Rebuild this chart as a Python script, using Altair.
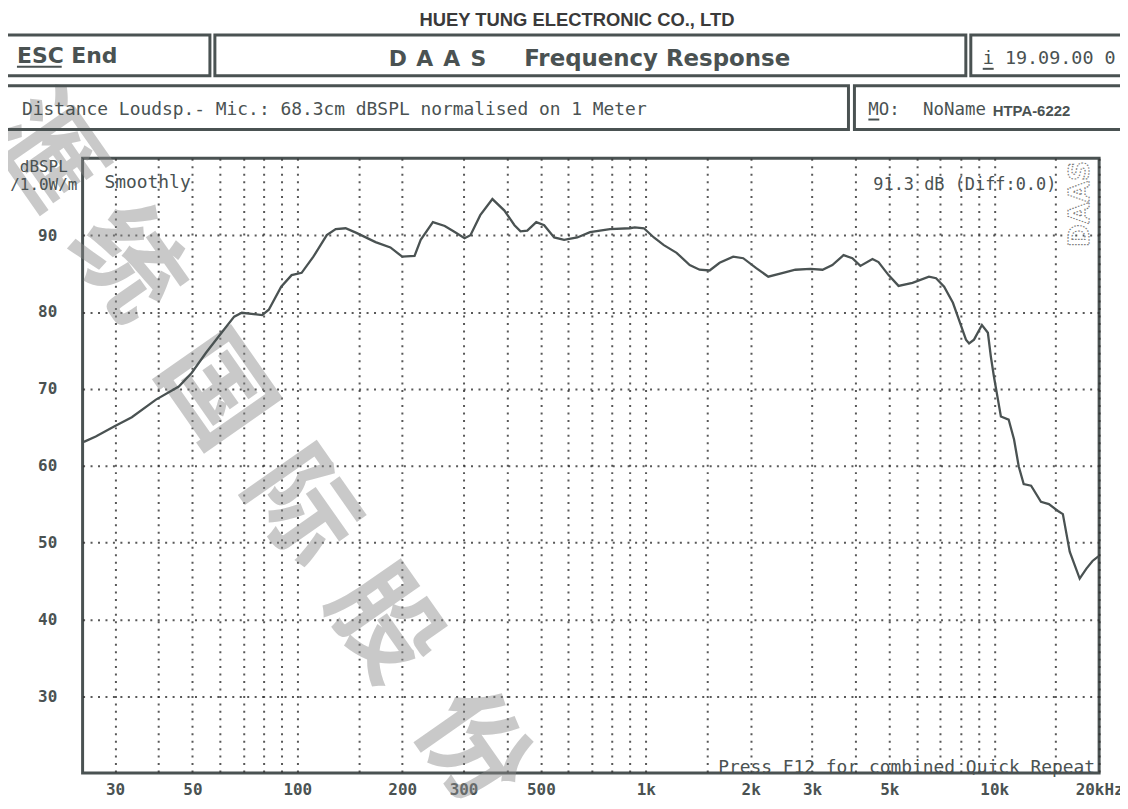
import altair as alt
import pandas as pd

# ---------------- data ----------------
freq_hz = [24.4, 26.4, 29.8, 33.5, 39.3, 45.7, 49.8, 54.7, 60.6, 65.9, 69.3, 79.3, 82.8,
           89.9, 96.3, 102.9, 111.2, 121.5, 128.9, 137.6, 147.8, 167.7, 185, 200, 217,
           226, 245, 265, 283, 302, 314, 335, 363, 393, 420, 437, 457, 485, 511, 546,
           583, 636, 692, 789, 900, 930, 988, 1055, 1127, 1226, 1337, 1427, 1525, 1629,
           1782, 1904, 2075, 2247, 2478, 2687, 2966, 3216, 3432, 3695, 3916, 4130, 4473,
           4654, 4975, 5314, 5827, 6496, 6810, 7182, 7612, 7919, 8297, 8470, 8750, 9220,
           9590, 9780, 9980, 10250, 10450, 11000, 11400, 11760, 12150, 12760, 13620,
           14350, 15240, 15740, 16470, 17590, 18390, 19150, 19900]
spl_db = [63.1, 63.8, 65.1, 66.3, 68.6, 70.3, 72.1, 74.7, 77.3, 79.4, 79.9, 79.6, 80.3,
          83.3, 84.8, 85.1, 87.2, 90.0, 90.8, 90.9, 90.3, 89.1, 88.4, 87.2, 87.3,
          89.4, 91.7, 91.2, 90.4, 89.6, 90.0, 92.6, 94.7, 93.2, 91.3, 90.5, 90.6, 91.7, 91.3, 89.7,
          89.4, 89.7, 90.4, 90.8, 90.9, 91.0, 90.9, 89.7, 88.7, 87.7, 86.1, 85.5, 85.4, 86.4,
          87.2, 87.0, 85.7, 84.6, 85.1, 85.5, 85.6, 85.5, 86.1, 87.4, 87.0, 86.0, 86.9,
          86.5, 84.8, 83.4, 83.8, 84.6, 84.4, 83.3, 81.2, 79.0, 76.4, 75.9, 76.4, 78.3,
          77.3, 74.2, 71.6, 68.6, 66.4, 66.0, 63.4, 59.9, 57.6, 57.4, 55.3,
          55.0, 54.1, 53.7, 48.8, 45.3, 46.6, 47.6, 48.2]

grid_freqs = [30, 40, 50, 60, 70, 80, 90, 100, 150, 200, 300, 400, 500, 600, 700, 800,
              900, 1000, 1500, 2000, 3000, 4000, 5000, 6000, 7000, 8000, 9000, 10000,
              15000, 20000]
x_label_values = [30, 50, 100, 200, 300, 500, 1000, 2000, 3000, 5000, 10000, 20000]
x_label_texts = ["30", "50", "100", "200", "300", "500", "1k", "2k", "3k", "5k", "10k", "20kHz"]
y_ticks = [30, 40, 50, 60, 70, 80, 90]

watermark_chars = ["滙", "统", "国", "际", "股", "份"]

# ---------------- layout ----------------
OX, OY = 83, 157          # page position of plot origin
W, H = 1022, 618
INK = "#4a5252"
MONO = "DejaVu Sans Mono"

df = pd.DataFrame({"freq": freq_hz, "spl": spl_db})
one = pd.DataFrame({"k": [0]})

label_expr = " : ".join(
    f"datum.value == {v} ? '{t}'" for v, t in zip(x_label_values, x_label_texts)
) + " : ''"

grid_style = dict(grid=True, gridDash=[2, 5.5], gridColor="#2e2e2e", gridWidth=2,
                  gridOpacity=0.8, ticks=False, domain=False, title=None,
                  labelColor=INK, labelFont=MONO, labelFontWeight="bold",
                  labelFontSize=16, labelOverlap=False, labelFlush=False,
                  labelBound=False)

base = alt.Chart(df).mark_line(color=INK, strokeWidth=2.3, clip=True).encode(
    x=alt.X("freq:Q",
            scale=alt.Scale(type="log", domain=[24.2, 20000], nice=False),
            axis=alt.Axis(values=grid_freqs, labelExpr=label_expr, labelPadding=9,
                          labelBaseline="top", **grid_style)),
    y=alt.Y("spl:Q",
            scale=alt.Scale(domain=[20, 100], nice=False, zero=False),
            axis=alt.Axis(values=y_ticks, labelPadding=26, **grid_style)),
)


def txt(s, X, Y, size=17.5, font=MONO, weight="normal", align="left",
        color=INK, angle=0, baseline="middle", **kw):
    return alt.Chart(one).mark_text(
        text=s, font=font, fontSize=size, fontWeight=weight, align=align,
        baseline=baseline, color=color, angle=angle, **kw
    ).encode(x=alt.value(X - OX), y=alt.value(Y - OY))


def box(X1, Y1, X2, Y2, sw=3):
    return alt.Chart(one).mark_rect(fillOpacity=0, stroke=INK, strokeWidth=sw).encode(
        x=alt.value(X1 - OX), x2=alt.value(X2 - OX),
        y=alt.value(Y1 - OY), y2=alt.value(Y2 - OY))


def hline(X1, X2, Y, sw=1.5):
    return alt.Chart(one).mark_rule(color=INK, strokeWidth=sw).encode(
        x=alt.value(X1 - OX), x2=alt.value(X2 - OX), y=alt.value(Y - OY))


layers = []

# watermark (under curve)
wm_pos = [(42, 152), (125, 265), (213, 393), (300, 510), (383, 628), (472, 752)]
for ch, (X, Y) in zip(watermark_chars, wm_pos):
    layers.append(txt(ch, X, Y, size=108, font="Noto Sans CJK SC", weight="bold",
                      align="center", color="#8a8a8a", angle=55, opacity=0.45))

layers.append(base)

# header
layers.append(txt("HUEY TUNG ELECTRONIC CO., LTD", 580, 18, size=18.5,
                  font="Liberation Sans", weight="bold", align="center", color="#3a3a3a"))
layers += [box(4, 33, 211, 74), box(216, 33, 971, 74), box(976, 33, 1140, 74),
           box(4, 84, 853, 128), box(859, 84, 1140, 128)]
layers.append(txt("ESC End", 17, 54, size=22, font="DejaVu Sans", weight="bold"))
layers.append(hline(17, 62, 65, 2))
for i, ch in enumerate("DAAS"):
    layers.append(txt(ch, 400 + 27 * i, 57, size=22, font="DejaVu Sans", weight="bold",
                      align="center"))
layers.append(txt("Frequency Response", 527, 57, size=23, font="DejaVu Sans", weight="bold"))
layers.append(txt("i 19.09.00 0", 988, 56, size=18.5))
layers.append(hline(988, 999, 67, 2))
layers.append(txt("Distance Loudsp.- Mic.: 68.3cm dBSPL normalised on 1 Meter", 22, 108, size=18))
layers.append(txt("MO:", 873, 108, size=17.5))
layers.append(hline(873, 884, 118, 2))
layers.append(txt("NoName", 928, 108, size=17.5))
layers.append(txt("HTPA-6222", 998, 109, size=15, font="Liberation Sans", weight="bold"))

# plot annotations
layers.append(txt("dBSPL", 44, 166, size=16, align="center"))
layers.append(txt("/1.0W/m", 44, 184, size=16, align="center"))
layers.append(txt("Smoothly", 105, 182, size=18))
layers.append(txt("91.3 dB (Diff:0.0)", 1062, 184, size=17, align="right"))
layers.append(txt("DAAS", 1087, 203, size=28, font="DejaVu Sans", weight="bold",
                  align="center", angle=270, fill="white", stroke="#7a7a7a",
                  strokeWidth=1.2, strokeDash=[1.5, 1.5]))
layers.append(txt("Press F12 for combined Quick Repeat", 1101, 770, size=18, align="right"))

chart = alt.layer(*layers).properties(
    width=W, height=H, autosize="none",
    padding={"left": 75, "top": 149, "right": 21, "bottom": 26},
).configure_view(stroke=INK, strokeWidth=3)

chart.save("out.html", embed_options={"renderer": "svg", "actions": False})
